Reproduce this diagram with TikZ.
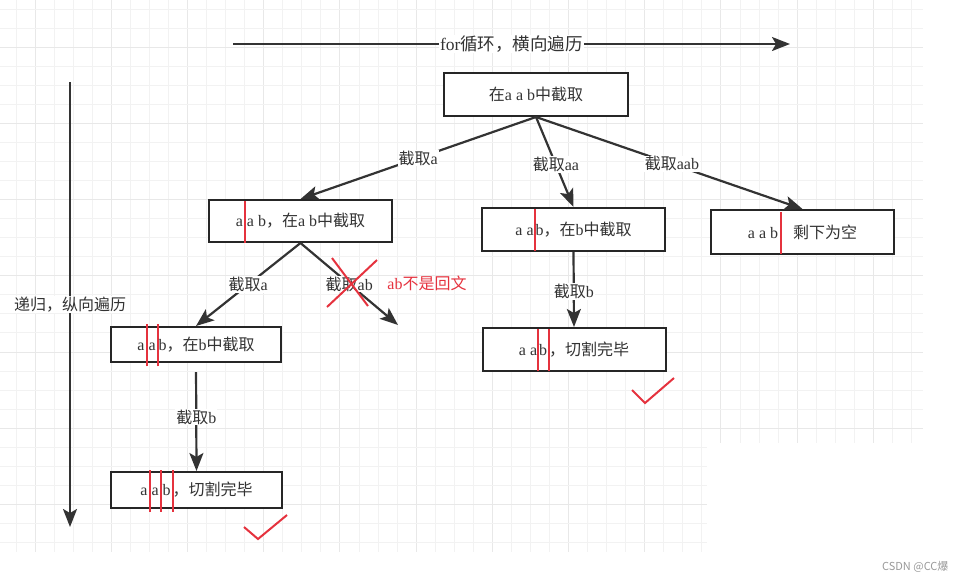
\documentclass[tikz,border=0pt]{standalone}
\usepackage{fontspec}
\setmainfont{Liberation Serif}
\newfontfamily\cjk{Noto Sans CJK SC}
\usetikzlibrary{arrows.meta}
\definecolor{cutred}{HTML}{E5323E}
\definecolor{ink}{HTML}{333333}
\newcommand{\zh}[1]{{\cjk #1}}
\newcommand{\cut}{\smash{\makebox[0pt]{\textcolor{cutred}{\rule[-16pt]{2pt}{42pt}}}}}

\begin{document}
\begin{tikzpicture}
  [x=1pt,y=-1pt,font=\fontsize{16}{19}\selectfont,
   box/.style={draw=black!85,line width=2pt,fill=white,text=ink,inner sep=0pt},
   lbl/.style={fill=white,text=ink,inner sep=1pt},
   arr/.style={draw=ink,line width=2.2pt,-{Stealth[length=18pt,width=14pt,inset=4pt]}},
   redpen/.style={draw=cutred,line width=2pt}]
  \useasboundingbox (0,0) rectangle (965,582);

  % grid
  \foreach \i in {0,...,47} {
    \pgfmathsetmacro\gx{16+19.05*\i}
    \pgfmathsetmacro\gy{\gx<707 ? 552 : 443}
    \pgfmathtruncatemacro\gs{mod(\i,4)==1 ? 18 : 10}
    \draw[gray!\gs,line width=0.8pt] (\gx,0) -- (\gx,\gy);
  }
  \foreach \j in {0,...,28} {
    \pgfmathsetmacro\gy{9+19.05*\j}
    \pgfmathsetmacro\gx{\gy<443 ? 923 : 707}
    \pgfmathtruncatemacro\gs{mod(\j,4)==2 ? 18 : 10}
    \draw[gray!\gs,line width=0.8pt] (0,\gy) -- (\gx,\gy);
  }

  % axes
  \coordinate (h0) at (233,44);
  \coordinate (h1) at (790,44);
  \coordinate (v0) at (70,82);
  \coordinate (v1) at (70,527);
  \draw[arr] (h0) -- node[lbl,font=\fontsize{17.5}{21}\selectfont] (hl) {for\zh{循环，横向遍历}} (h1);
  \draw[arr] (v0) -- node[lbl] (vl) {\zh{递归，纵向遍历}} (v1);

  % boxes
  \node[box,minimum width=184pt,minimum height=43pt] (root) at (536,94.5) {\zh{在}a a b\zh{中截取}};
  \node[box,minimum width=183pt,minimum height=42pt] (L1) at (300.5,221) {a\kern2pt\cut\kern2pt a b\zh{，在}a b\zh{中截取}};
  \node[box,minimum width=183pt,minimum height=43pt] (M1) at (573.5,229.5) {a a\kern1pt\cut\kern1pt b\zh{，在}b\zh{中截取}};
  \node[box,minimum width=183pt,minimum height=44pt] (R1) at (802.5,232) {a a b\kern3pt\cut\kern12pt\zh{剩下为空}};
  \node[box,minimum width=170pt,minimum height=35pt] (L2) at (196,344.5) {a\kern2pt\cut\kern2pt a\kern2pt\cut\kern1pt b\zh{，在}b\zh{中截取}};
  \node[box,minimum width=183pt,minimum height=43pt] (M2) at (574,349.5) {a a\kern1pt\cut\kern1pt b\kern2pt\cut\zh{，切割完毕}};
  \node[box,minimum width=171pt,minimum height=36pt] (L3) at (196.5,490) {a\kern2pt\cut\kern2pt a\kern2pt\cut\kern2pt b\kern2pt\cut\zh{，切割完毕}};
  \coordinate (abend) at (398,325);

  \foreach \from/\to/\txt/\p [count=\k] in
    {root.south/L1.north/{\zh{截取}a}/0.5,
     root.south/M1.north/{\zh{截取}aa}/0.53,
     root.south/R1.north/{\zh{截取}aab}/0.51,
     L1.south/L2.north/{\zh{截取}a}/0.5,
     L1.south/abend/{\zh{截取}ab}/0.5,
     M1.south/M2.north/{\zh{截取}b}/0.53}
    \draw[arr] (\from) -- node[lbl,pos=\p] (e\k) {\txt} (\to);
  \draw[arr,shorten <=9pt] (L2.south) -- node[lbl] (e7) {\zh{截取}b} (L3.north);

  % ab is no palindrome
  \draw[redpen] (332,258) -- (368,306);
  \draw[redpen] (377,260) -- (327,307);
  \node[text=cutred] (nopal) at (427,283) {ab\zh{不是回文}};

  % done
  \draw[redpen] (632,390) -- (645,403) -- (674,378);
  \draw[redpen] (244,527) -- (258,539) -- (287,515);

  \node[text=gray!80,font=\cjk\fontsize{11}{13}\selectfont,anchor=east] (wm) at (952,567) {CSDN @CC爆};
\end{tikzpicture}
\end{document}
